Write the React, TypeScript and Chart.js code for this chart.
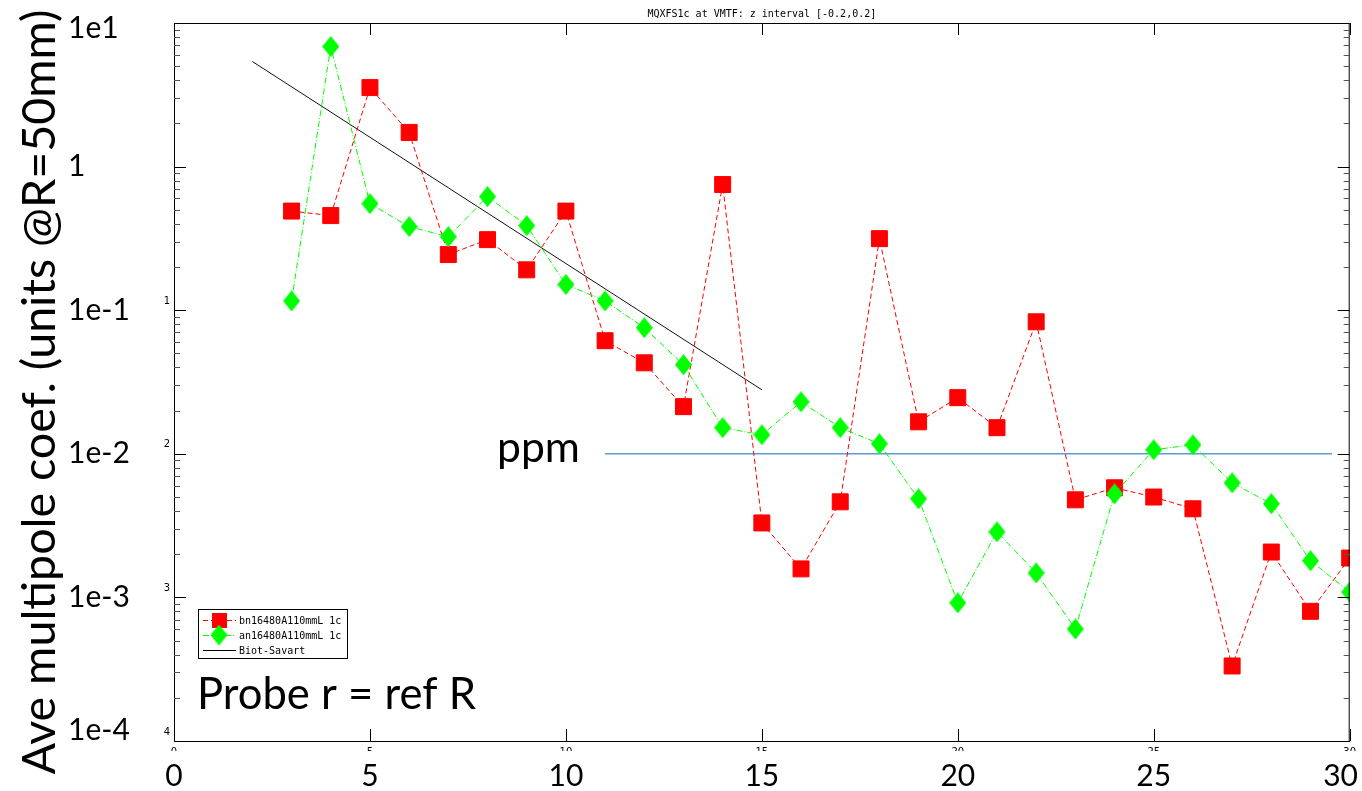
import React, { useEffect, useRef } from "react";
import Chart from "chart.js/auto";

const harmonics = [3, 4, 5, 6, 7, 8, 9, 10, 11, 12, 13, 14, 15, 16, 17, 18, 19, 20, 21, 22, 23, 24, 25, 26, 27, 28, 29, 30];
const bnValues = [0.49, 0.456, 3.55, 1.73, 0.244, 0.31, 0.191, 0.49, 0.0613, 0.043, 0.0213, 0.75, 0.0033, 0.00158, 0.00463, 0.315, 0.0167, 0.0246, 0.0152, 0.083, 0.00478, 0.0058, 0.005, 0.00414, 0.000333, 0.00207, 0.0008, 0.00188];
const anValues = [0.116, 6.86, 0.552, 0.382, 0.325, 0.618, 0.388, 0.151, 0.116, 0.0755, 0.0417, 0.0152, 0.01356, 0.023, 0.0152, 0.01174, 0.00486, 0.000916, 0.00286, 0.00148, 0.000603, 0.00526, 0.01067, 0.01156, 0.00628, 0.00449, 0.0018, 0.00109];
const biotSavartX = [2, 15];
const biotSavartY = [5.39, 0.0279];
const ppmX = [11, 29.55];
const ppmY = [0.01, 0.01];
const xTicks = [0, 5, 10, 15, 20, 25, 30];
const yExponents = [1, 0, -1, -2, -3, -4];
const yTickLabels = ["1e1", "1", "1e-1", "1e-2", "1e-3", "1e-4"];
const smallYLabels = ["", "", "1", "2", "3", "4"];
const bnLabel = "bn16480A110mmL 1c";
const anLabel = "an16480A110mmL 1c";
const bsLabel = "Biot-Savart";
const titleText = "MQXFS1c at VMTF: z interval [-0.2,0.2]";
const yTitle = "Ave multipole coef. (units @R=50mm)";
const probeText = "Probe r = ref R";
const ppmText = "ppm";

const RED = "#ff0000";
const GREEN = "#00ff00";
const BIG_FONT = "Lato";
const MONO = "'DejaVu Sans Mono', monospace";

function makeDiamond(): HTMLCanvasElement {
  const c = document.createElement("canvas");
  c.width = 17;
  c.height = 21;
  const g = c.getContext("2d")!;
  g.fillStyle = GREEN;
  g.beginPath();
  g.moveTo(8.5, 0);
  g.lineTo(17, 10.5);
  g.lineTo(8.5, 21);
  g.lineTo(0, 10.5);
  g.closePath();
  g.fill();
  return c;
}

function fitFont(ctx: CanvasRenderingContext2D, text: string, family: string, width: number): number {
  ctx.font = `100px ${family}`;
  const w = ctx.measureText(text).width;
  return (100 * width) / w;
}

const overlayPlugin = {
  id: "overlay",
  afterDatasetsDraw(chart: any) {
    const { ctx, chartArea: a } = chart;
    const xs = chart.scales.x;
    const ys = chart.scales.y;
    const diamond = (chart as any).$diamond as HTMLCanvasElement;
    ctx.save();
    // axes box
    ctx.strokeStyle = "#000";
    ctx.lineWidth = 1;
    ctx.strokeRect(a.left + 0.5, a.top + 0.5, a.right - a.left - 1, a.bottom - a.top);
    // y ticks
    ctx.beginPath();
    for (let e = -4; e <= 1; e++) {
      const py = Math.round(ys.getPixelForValue(Math.pow(10, e))) + 0.5;
      ctx.moveTo(a.left, py);
      ctx.lineTo(a.left + 12, py);
      ctx.moveTo(a.right, py);
      ctx.lineTo(a.right - 12, py);
    }
    ctx.stroke();
    ctx.strokeStyle = "#555";
    ctx.beginPath();
    for (let e = -4; e <= 0; e++) {
      for (let m = 2; m <= 9; m++) {
        const py = Math.round(ys.getPixelForValue(m * Math.pow(10, e))) + 0.5;
        ctx.moveTo(a.left, py);
        ctx.lineTo(a.left + 6, py);
        ctx.moveTo(a.right, py);
        ctx.lineTo(a.right - 6, py);
      }
    }
    ctx.stroke();
    // x ticks
    ctx.strokeStyle = "#000";
    ctx.beginPath();
    for (const t of xTicks) {
      const px = Math.round(xs.getPixelForValue(t)) + 0.5;
      ctx.moveTo(px, a.bottom);
      ctx.lineTo(px, a.bottom - 12);
      ctx.moveTo(px, a.top);
      ctx.lineTo(px, a.top + 12);
    }
    ctx.stroke();

    // small clipped original x labels (cut off at the image edge)
    ctx.save();
    ctx.beginPath();
    ctx.rect(0, a.bottom + 1, chart.width, 9);
    ctx.clip();
    ctx.fillStyle = "#000";
    ctx.font = "10px 'DejaVu Sans', sans-serif";
    ctx.textAlign = "center";
    ctx.textBaseline = "top";
    for (const t of xTicks) {
      ctx.fillText(String(t), xs.getPixelForValue(t), a.bottom + 6);
    }
    ctx.restore();

    // small exponent labels on y axis
    ctx.fillStyle = "#000";
    ctx.font = "10px 'DejaVu Sans', sans-serif";
    ctx.textAlign = "right";
    ctx.textBaseline = "middle";
    yExponents.forEach((e, i) => {
      if (!smallYLabels[i]) return;
      const py = ys.getPixelForValue(Math.pow(10, e));
      ctx.fillText(smallYLabels[i], a.left - 4, Math.min(py - 9, a.bottom - 6));
    });

    // title
    ctx.font = `10px ${MONO}`;
    ctx.textAlign = "center";
    ctx.textBaseline = "middle";
    ctx.fillText(titleText, (a.left + a.right) / 2 + 0, 14);

    // big y tick labels
    ctx.font = `30px ${BIG_FONT}`;
    ctx.textAlign = "left";
    ctx.textBaseline = "middle";
    yExponents.forEach((e, i) => {
      let py = ys.getPixelForValue(Math.pow(10, e));
      py = Math.max(28, Math.min(730, py));
      ctx.fillText(yTickLabels[i], 68, py);
    });

    // big x tick labels
    ctx.textAlign = "center";
    for (const t of xTicks) {
      let px = xs.getPixelForValue(t);
      const w = ctx.measureText(String(t)).width;
      px = Math.min(px, chart.width - w / 2 - 4);
      ctx.fillText(String(t), px, 776);
    }

    // y title
    const ySize = fitFont(ctx, yTitle, BIG_FONT, 765);
    ctx.save();
    ctx.translate(55, 392);
    ctx.rotate(-Math.PI / 2);
    ctx.font = `${ySize}px ${BIG_FONT}`;
    ctx.textAlign = "center";
    ctx.textBaseline = "alphabetic";
    ctx.fillText(yTitle, 0, 0);
    ctx.restore();

    // ppm text
    const pSize = fitFont(ctx, ppmText, BIG_FONT, 83);
    ctx.font = `${pSize}px ${BIG_FONT}`;
    ctx.textAlign = "left";
    ctx.textBaseline = "alphabetic";
    ctx.fillText(ppmText, 497, 462);

    // Probe text
    const prSize = fitFont(ctx, probeText, BIG_FONT, 279);
    ctx.font = `${prSize}px ${BIG_FONT}`;
    ctx.fillText(probeText, 197, 709);

    // legend
    const lx = 198, ly = 609, lw = 149, lh = 49;
    ctx.fillStyle = "#fff";
    ctx.fillRect(lx, ly, lw, lh);
    ctx.strokeStyle = "#000";
    ctx.lineWidth = 1;
    ctx.strokeRect(lx + 0.5, ly + 0.5, lw, lh);
    const rows = [620, 635, 650];
    // red
    ctx.strokeStyle = RED;
    ctx.setLineDash([5, 3]);
    ctx.beginPath();
    ctx.moveTo(203, rows[0] + 0.5);
    ctx.lineTo(236, rows[0] + 0.5);
    ctx.stroke();
    ctx.setLineDash([]);
    ctx.fillStyle = RED;
    ctx.fillRect(212, rows[0] - 7, 15, 15);
    // green
    ctx.strokeStyle = GREEN;
    ctx.setLineDash([6, 2, 1, 2]);
    ctx.beginPath();
    ctx.moveTo(203, rows[1] + 0.5);
    ctx.lineTo(236, rows[1] + 0.5);
    ctx.stroke();
    ctx.setLineDash([]);
    if (diamond) ctx.drawImage(diamond, 219 - 8.5, rows[1] - 10.5);
    // black
    ctx.strokeStyle = "#000";
    ctx.beginPath();
    ctx.moveTo(203, rows[2] + 0.5);
    ctx.lineTo(236, rows[2] + 0.5);
    ctx.stroke();
    ctx.fillStyle = "#000";
    ctx.font = `10px ${MONO}`;
    ctx.textAlign = "left";
    ctx.textBaseline = "middle";
    ctx.fillText(bnLabel, 239, rows[0] + 1);
    ctx.fillText(anLabel, 239, rows[1] + 1);
    ctx.fillText(bsLabel, 239, rows[2] + 1);

    ctx.restore();
  },
};

export default function App() {
  const ref = useRef<HTMLCanvasElement | null>(null);
  useEffect(() => {
    document.body.style.margin = "0";
    const canvas = ref.current!;
    const diamond = makeDiamond();
    const chart = new Chart(canvas, {
      type: "line",
      data: {
        datasets: [
          {
            label: anLabel,
            data: harmonics.map((h, i) => ({ x: h, y: anValues[i] })),
            borderColor: GREEN,
            backgroundColor: GREEN,
            borderWidth: 1,
            borderDash: [6, 2, 1, 2],
            pointStyle: diamond as any,
            pointRadius: 9,
            order: 0,
          },
          {
            label: bnLabel,
            data: harmonics.map((h, i) => ({ x: h, y: bnValues[i] })),
            borderColor: RED,
            backgroundColor: RED,
            borderWidth: 1,
            borderDash: [5, 3],
            pointStyle: "rect",
            pointRadius: 11.3,
            order: 1,
          },
          {
            label: bsLabel,
            data: biotSavartX.map((x, i) => ({ x, y: biotSavartY[i] })),
            borderColor: "#111",
            borderWidth: 1,
            pointRadius: 0,
            order: 2,
          },
          {
            label: "ppm",
            data: ppmX.map((x, i) => ({ x, y: ppmY[i] })),
            borderColor: "#5b9bd5",
            borderWidth: 1.5,
            pointRadius: 0,
            order: 3,
          },
        ],
      },
      options: {
        responsive: false,
        animation: false,
        devicePixelRatio: 1,
        layout: { padding: { left: 174, top: 23, right: 11, bottom: 50 } },
        plugins: { legend: { display: false }, tooltip: { enabled: false }, title: { display: false } },
        elements: { line: { tension: 0 } },
        scales: {
          x: { type: "linear", min: 0, max: 30, display: false },
          y: { type: "logarithmic", min: 1e-4, max: 10, display: false },
        },
      },
      plugins: [overlayPlugin],
    });
    (chart as any).$diamond = diamond;
    chart.draw();
    return () => chart.destroy();
  }, []);
  return (
    <div style={{ width: 1362, height: 791, background: "#fff" }}>
      <canvas ref={ref} width={1362} height={791} style={{ display: "block" }} />
    </div>
  );
}
